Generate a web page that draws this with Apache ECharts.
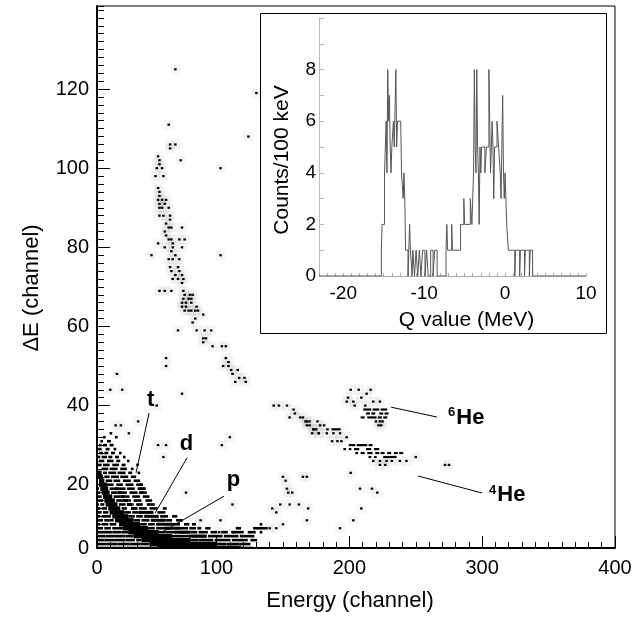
<!DOCTYPE html>
<html><head><meta charset="utf-8">
<script src="https://cdn.jsdelivr.net/npm/echarts@6/dist/echarts.min.js"></script>
<style>html,body{margin:0;padding:0;background:#fff}#c{width:644px;height:617px}</style>
</head><body><div id="c"></div>
<script>
// ---------------- DATA ----------------
// Main ΔE-E plot: axis ticks
const xTickValues = [10, 100, 200, 300, 400];
const xTickLabels = ['0', '100', '200', '300', '400'];
const yTickValues = [4, 20, 40, 60, 80, 100, 120];
const yTickLabels = ['0', '20', '40', '60', '80', '100', '120'];

// proton band (dense): [ΔE channel, E from, E to]
const protonBand = [
  [23,11,13],[22,11,14],[21,12,15],[20,12,17],[19,13,18],[18,14,19],[17,15,21],[16,16,23],
  [15,17,25],[14,19,27],[13,20,30],[12,22,33],[11,24,37],[10,27,42],[9,30,48],[8,34,56],
  [7,38,66],[6,44,80],[5,50,100],[4,56,118]
];
// deuteron band: [ΔE, E from, E to]
const deuteronBand = [
  [19,24,26],[18,26,28],[17,28,31],[16,30,33],[15,33,36],[14,36,40],[13,42,52],[12,46,56],
  [11,51,61],[10,55,66],[9,61,72],[8,69,80],[7,80,92]
];
// sparse hit rows (p, d, t region): [ΔE, E from, E to]
const hitRows = [
  [33,20,21],[32,15,16],[32,24,25],[31,13,14],[31,18,20],[30,12,13],[30,15,17],[30,20,22],
  [29,11,13],[29,17,19],[29,23,24],[28,12,14],[28,16,18],[28,21,23],[28,27,28],
  [27,11,12],[27,14,17],[27,19,21],[27,24,26],[27,30,31],[26,12,15],[26,18,22],[26,25,27],[26,33,34],
  [25,11,13],[25,15,19],[25,22,26],[25,29,31],[25,40,41],[24,14,18],[24,20,25],[24,28,32],[24,36,37],
  [23,15,17],[23,19,24],[23,26,31],[23,34,36],[23,41,42],[22,16,19],[22,21,26],[22,28,33],[22,36,39],
  [21,17,21],[21,23,27],[21,30,35],[21,38,42],[20,18,22],[20,25,29],[20,32,37],[20,40,44],
  [19,10,11],[19,20,24],[19,27,31],[19,33,38],[19,41,46],[18,10,12],[18,21,25],[18,28,32],[18,35,40],[18,42,47],
  [17,10,13],[17,23,27],[17,32,34],[17,37,42],[17,45,49],[16,10,14],[16,25,29],[16,34,35],[16,38,43],[16,47,51],
  [15,10,11],[15,13,15],[15,27,31],[15,37,37],[15,40,44],[15,48,53],
  [14,10,12],[14,14,17],[14,29,32],[14,42,47],[14,50,55],[14,60,62],
  [13,10,13],[13,15,18],[13,31,35],[13,37,41],[13,56,61],
  [12,10,12],[12,14,17],[12,18,20],[12,34,38],[12,40,44],[12,58,63],[12,67,70],
  [11,11,14],[11,16,19],[11,20,22],[11,38,42],[11,44,49],[11,62,66],[11,70,74],
  [10,10,12],[10,14,18],[10,20,24],[10,43,47],[10,49,53],[10,67,72],[10,76,79],[10,82,84],
  [9,10,14],[9,16,20],[9,22,26],[9,27,29],[9,49,53],[9,55,60],[9,63,66],[9,73,78],[9,80,84],[9,86,88],[9,92,95],[9,115,118],[9,128,138],
  [8,10,14],[8,15,21],[8,22,28],[8,29,33],[8,57,61],[8,62,69],[8,72,78],[8,81,85],[8,87,93],[8,96,100],[8,104,108],[8,112,120],[8,124,129],[8,133,134],
  [7,10,16],[7,17,23],[7,24,31],[7,32,37],[7,67,72],[7,73,80],[7,82,92],[7,94,104],[7,106,116],[7,118,128],
  [6,10,15],[6,16,23],[6,24,31],[6,32,38],[6,40,43],[6,81,86],[6,87,97],[6,99,110],[6,112,123],[6,126,130],
  [5,10,17],[5,18,25],[5,26,34],[5,35,42],[5,43,49],[5,101,107],[5,108,117],[5,118,125],
  [4,10,19],[4,20,29],[4,30,39],[4,40,50],[4,51,55],[4,119,127],
  [10,133,134],[20,43,44],[19,42,46],[18,43,44]
];
// isolated hits: [E, ΔE]
const hits = [
  // heavy, steep band
  [64,111],[65,106],[69,106],[65,105],[73,102],[56,103],[57,102],[57,101],[55,100],[59,100],[54,98],[60,98],
  [56,95],[57,94],[57,93],[56,92],[59,92],[62,92],[57,91],[61,91],[57,90],[59,90],[64,90],[57,88],[60,88],[65,88],
  [65,87],[62,86],[64,85],[66,85],[74,85],[61,84],[62,83],[64,82],[66,82],[72,82],[76,82],[56,81],[67,81],
  [61,80],[67,80],[74,80],[66,79],[69,78],[64,77],[67,77],[72,77],[65,75],[71,75],[66,74],[72,74],[69,73],[74,73],
  [67,72],[71,72],[75,72],[74,71],[57,69],[61,69],[66,69],[75,69],[76,68],[80,68],[82,68],[75,67],[79,67],[81,67],
  [74,66],[77,66],[81,66],[74,65],[77,65],[85,65],[76,64],[79,64],[81,64],[84,64],[86,64],[90,63],[84,62],[82,61],
  [71,59],[85,59],[91,59],[96,59],[90,57],[92,57],[90,56],[97,55],[104,55],[107,55],[107,52],[109,51],[105,50],
  [109,50],[111,49],[116,49],[112,48],[117,47],[121,47],[114,46],[122,46],[62,52],[62,50],
  // scattered
  [69,125],[130,119],[124,108],[103,100],[51,78],[103,78],[25,48],[20,44],[29,44],[74,43],[55,40],[24,35],[28,35],
  [34,33],[41,36],[110,32],[56,30],[62,30],[104,30],[60,27],[77,18],[112,15],[103,11],[88,11],[102,8],[112,8],
  // 6He group
  [201,44],[207,44],[216,44],[199,42],[203,41],[209,42],[213,43],[198,41],[204,40],[212,40],[218,41],[223,41],
  [220,36],[223,36],[225,36],[222,35],[224,35],
  // 4He group
  [143,40],[147,40],[153,40],[158,39],[159,38],[155,37],[163,37],[167,36],[168,36],[170,35],[173,34],[175,34],[172,33],[177,33],
  [165,37],[170,36],[176,36],[178,35],[181,35],[168,35],[173,34],[177,33],[183,33],[188,33],[193,33],
  [187,31],[191,31],[194,31],[198,32],[250,27],[218,26],[223,26],[228,26],[232,26],[238,26],[243,26],
  [223,25],[227,25],[272,25],[275,25],
  // others
  [150,22],[152,21],[153,19],[154,18],[157,18],[155,15],[162,15],[165,22],[168,22],[142,14],[148,15],[145,13],
  [140,9],[145,9],[150,10],[201,23],[208,19],[217,19],[221,18],[209,14],[203,11],[168,11],[169,14],[193,9]
];
// dashes in the He groups: [ΔE, E from, E to]
const heRows = [
  [39,211,216],[39,218,222],[39,224,228],[38,213,215],[38,217,219],[38,223,225],[38,227,229],
  [37,209,211],[37,214,220],[37,222,224],[37,226,228],
  [34,183,184],[34,187,193],[30,200,204],[30,206,213],[30,215,217],
  [29,196,197],[29,200,201],[29,204,207],[29,213,216],[29,219,222],
  [28,205,206],[28,209,211],[28,214,217],[28,220,222],[28,224,226],[28,229,231],[28,234,236],[28,238,240],
  [27,215,216],[27,219,220],[27,226,230],[27,231,235]
];

// annotations
const annotations = [
  { text: '{b|t}', at: [50.4, 41.4], pos: 'inside' },
  { text: '{b|d}', at: [77.4, 30.2], pos: 'inside' },
  { text: '{b|p}', at: [112.8, 21.2], pos: 'inside' },
  { text: '{s|6}{b|He}', at: [274.3, 36.9], pos: 'right' },
  { text: '{s|4}{b|He}', at: [305.2, 17.4], pos: 'right' }
];
const leaderLines = [
  [[49.2, 38.1], [39.4, 23.0]],
  [[77.8, 26.8], [53.7, 12.8]],
  [[105.6, 17.1], [58.9, 8.0]],
  [[231.4, 39.6], [266.0, 37.1]],
  [[251.7, 22.2], [299.9, 17.9]]
];

// Inset: Q-value histogram, [Q left edge (MeV), counts per 100 keV]
const qSteps = [
  [-23,0],[-15.3,1],[-15.2,2],[-15.0,2],[-14.9,4],[-14.8,5],[-14.7,6],[-14.6,4],[-14.5,8],[-14.4,6],[-14.3,7],
  [-14.2,5],[-14.1,4],[-14.0,5],[-13.9,5],[-13.8,6],[-13.7,5],[-13.6,5],[-13.5,8],[-13.4,5],[-13.3,6],[-13.2,6],
  [-12.9,6],[-12.8,4],[-12.7,4],[-12.6,3],[-12.5,4],[-12.4,3],[-12.3,1],[-12.0,0],[-11.9,1],[-11.8,2],[-11.7,1],
  [-11.5,0],[-11.4,1],[-11.2,0],[-11.0,1],[-10.8,0],[-10.6,1],[-10.4,0],[-10.2,1],[-9.9,0],[-9.7,1],[-9.5,0],
  [-9.2,1],[-8.9,0],[-8.7,1],[-8.4,0],[-7.3,1],[-7.2,2],[-7.1,1],[-6.6,2],[-6.5,1],[-5.5,2],[-5.1,3],[-5.0,2],
  [-4.3,3],[-4.1,2],[-3.9,4],[-3.8,8],[-3.7,5],[-3.6,4],[-3.5,8],[-3.4,5],[-3.3,4],[-3.2,2],[-3.1,5],[-3.0,4],
  [-2.9,5],[-2.5,4],[-2.3,5],[-2.0,8],[-1.9,6],[-1.8,4],[-1.7,5],[-1.6,6],[-1.5,5],[-1.4,3],[-1.3,5],[-1.0,6],
  [-0.8,5],[-0.6,4],[-0.5,3],[-0.4,5],[-0.3,7],[-0.2,4],[-0.1,3],[0.0,4],[0.2,2],[0.4,1],[0.9,1],[1.2,0],
  [1.3,1],[1.8,0],[1.9,1],[2.4,0],[2.5,1],[3.0,0],[3.1,1],[3.4,0],[10,0]
];
const qTickValues = [-20, -10, 0, 10];
const countTickValues = [0, 2, 4, 6, 8];

// ---------------- CHART ----------------
const FONT = '"Liberation Sans", Arial, Helvetica, sans-serif';
const chart = echarts.init(document.getElementById('c'), null, { renderer: 'canvas' });

function rowItem(h) {
  return function (params, api) {
    const y = api.value(0), x1 = api.value(1), x2 = api.value(2);
    const a = api.coord([x1 - 0.5, y]);
    const b = api.coord([x2 + 0.5, y]);
    return {
      type: 'rect',
      shape: { x: a[0], y: a[1] - h / 2, width: Math.max(b[0] - a[0], 1.5), height: h },
      style: { fill: '#000' }
    };
  };
}

const axisText = { color: '#000', fontFamily: FONT, fontSize: 20 };

chart.setOption({
  animation: false,
  backgroundColor: '#fff',
  grid: [
    { left: 97, right: 29, top: 6, bottom: 69, show: true, borderColor: '#000', borderWidth: 1 },
    { left: 319, width: 267, top: 18, height: 258 }
  ],
  graphic: [
    { type: 'rect', z: 50, shape: { x: 260.5, y: 13.5, width: 346, height: 320 },
      style: { fill: '#fff', stroke: '#000', lineWidth: 1 } }
  ],
  xAxis: [
    { gridIndex: 0, type: 'value', min: 10, max: 400, position: 'bottom',
      axisLine: { show: true, onZero: false, lineStyle: { color: '#000', width: 2 } },
      axisTick: { show: true, inside: true, length: 12, customValues: [100, 200, 300, 400], lineStyle: { color: '#000' } },
      axisLabel: { show: true, customValues: xTickValues, margin: 10, ...axisText,
        formatter: v => xTickLabels[xTickValues.indexOf(v)] },
      splitLine: { show: false },
      name: 'Energy (channel)', nameLocation: 'middle', nameGap: 42,
      nameTextStyle: { color: '#000', fontFamily: FONT, fontSize: 22, padding: [0, 12, 0, 0] } },
    { gridIndex: 0, type: 'value', min: 10, max: 400, interval: 10, position: 'bottom', offset: 0,
      axisLine: { show: false, onZero: false }, axisLabel: { show: false }, splitLine: { show: false },
      axisTick: { show: true, inside: true, length: 6, lineStyle: { color: '#000' } } },
    { gridIndex: 1, type: 'value', min: -23, max: 10, position: 'bottom', z: 60,
      axisLine: { show: true, onZero: false, lineStyle: { color: '#aaa', width: 1 } },
      axisTick: { show: true, inside: true, length: 3, interval: 0, lineStyle: { color: '#aaa' } },
      interval: 1,
      axisLabel: { show: true, customValues: qTickValues, margin: 8, color: '#000', fontFamily: FONT, fontSize: 19 },
      splitLine: { show: false },
      name: 'Q value (MeV)', nameLocation: 'middle', nameGap: 34,
      nameTextStyle: { color: '#000', fontFamily: FONT, fontSize: 21, padding: [0, 0, 0, 28] } }
  ],
  yAxis: [
    { gridIndex: 0, type: 'value', min: 4, max: 141, position: 'left',
      axisLine: { show: true, onZero: false, lineStyle: { color: '#000', width: 2 } },
      axisTick: { show: true, inside: true, length: 13, customValues: [20, 40, 60, 80, 100, 120], lineStyle: { color: '#000' } },
      axisLabel: { show: true, customValues: yTickValues, margin: 8, ...axisText,
        formatter: v => yTickLabels[yTickValues.indexOf(v)] },
      splitLine: { show: false },
      name: 'ΔE (channel)', nameLocation: 'middle', nameGap: 54, nameRotate: 90,
      nameTextStyle: { color: '#000', fontFamily: FONT, fontSize: 22, padding: [0, 22, 0, 0] } },
    { gridIndex: 0, type: 'value', min: 4, max: 141, interval: 2, position: 'left', offset: 0,
      axisLine: { show: false, onZero: false }, axisLabel: { show: false }, splitLine: { show: false },
      axisTick: { show: true, inside: true, length: 7, lineStyle: { color: '#000' } } },
    { gridIndex: 1, type: 'value', min: 0, max: 10, interval: 1, position: 'left', z: 60,
      axisLine: { show: true, onZero: false, lineStyle: { color: '#bbb', width: 1 } },
      axisTick: { show: true, inside: true, length: 5, lineStyle: { color: '#bbb' } },
      axisLabel: { show: true, customValues: countTickValues, margin: 3, color: '#000', fontFamily: FONT, fontSize: 19 },
      splitLine: { show: false },
      name: 'Counts/100 keV', nameLocation: 'middle', nameGap: 26, nameRotate: 90,
      nameTextStyle: { color: '#000', fontFamily: FONT, fontSize: 21, padding: [0, 26, 0, 0] } }
  ],
  series: [
    { type: 'scatter', xAxisIndex: 0, yAxisIndex: 0, data: hits, symbol: 'rect', symbolSize: 10,
      itemStyle: { color: 'rgba(0,0,0,0.035)', opacity: 1 }, silent: true, z: 1 },
    { type: 'custom', xAxisIndex: 0, yAxisIndex: 0, data: hitRows, renderItem: rowItem(2.6),
      encode: { x: [1, 2], y: 0 }, clip: true, z: 2 },
    { type: 'custom', xAxisIndex: 0, yAxisIndex: 0, data: heRows, renderItem: rowItem(2.2),
      encode: { x: [1, 2], y: 0 }, clip: true, z: 2 },
    { type: 'custom', xAxisIndex: 0, yAxisIndex: 0, data: deuteronBand, renderItem: rowItem(3),
      encode: { x: [1, 2], y: 0 }, clip: true, z: 2 },
    { type: 'custom', xAxisIndex: 0, yAxisIndex: 0, data: protonBand, renderItem: rowItem(4.4),
      encode: { x: [1, 2], y: 0 }, clip: true, z: 3 },
    { type: 'scatter', xAxisIndex: 0, yAxisIndex: 0, data: hits, symbol: 'rect', symbolSize: [2.5, 2.2],
      itemStyle: { color: '#000', opacity: 1 }, z: 4 },
    { type: 'lines', coordinateSystem: 'cartesian2d', xAxisIndex: 0, yAxisIndex: 0, z: 5,
      data: leaderLines.map(c => ({ coords: c })), lineStyle: { color: '#000', width: 1, opacity: 1 }, symbol: 'none' },
    { type: 'scatter', xAxisIndex: 0, yAxisIndex: 0, z: 6, symbolSize: 0, itemStyle: { opacity: 1 },
      data: annotations.map(a => ({ value: a.at, label: { formatter: a.text, position: a.pos, distance: 0 } })),
      label: { show: true, color: '#000', fontFamily: FONT, opacity: 1, textBorderWidth: 0,
        rich: { b: { fontSize: 22, fontWeight: 'bold', fontFamily: FONT, color: '#000', textBorderWidth: 0 },
                s: { fontSize: 13, fontWeight: 'bold', fontFamily: FONT, color: '#000', textBorderWidth: 0, padding: [0, 1, 10, 0] } } } },
    { type: 'line', xAxisIndex: 2, yAxisIndex: 2, data: qSteps, step: 'end', symbol: 'none', z: 60,
      lineStyle: { color: '#555', width: 1 } }
  ]
});
</script></body></html>
